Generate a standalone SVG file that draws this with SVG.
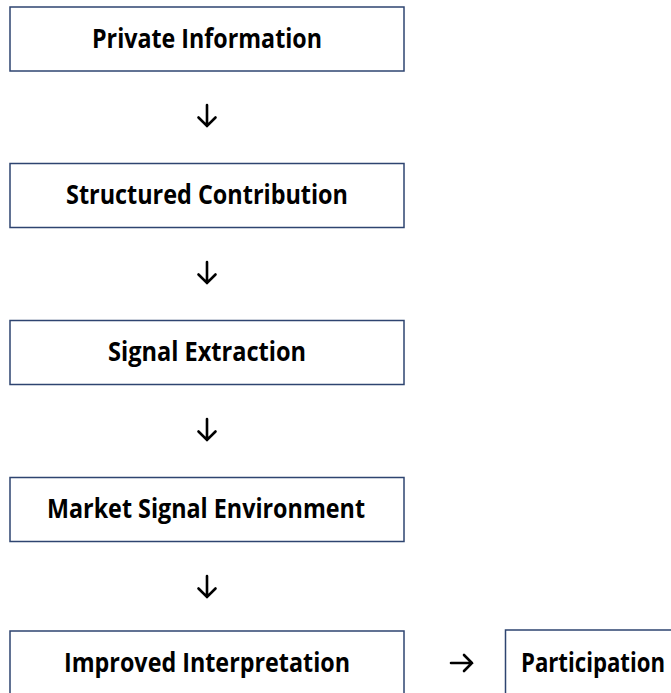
<svg xmlns="http://www.w3.org/2000/svg" width="671" height="693" viewBox="0 0 671 693">
<style>
.box{fill:#ffffff;stroke:#2e4470;stroke-width:1.5}
.lbl{font-family:"Open Sans",Lato,"Liberation Sans",sans-serif;font-weight:bold;font-size:26px;fill:#000;text-anchor:middle}
.arr{fill:none;stroke:#000;stroke-width:2.6;stroke-linecap:round;stroke-linejoin:miter}
</style>
<rect width="671" height="693" fill="#ffffff"/>
<g id="connectors">
<path class="arr" d="M207 105V126M198.5 117.5L207 126L215.5 117.5"/>
<path class="arr" d="M207 262V283M198.5 274.5L207 283L215.5 274.5"/>
<path class="arr" d="M207 419V440M198.5 431.5L207 440L215.5 431.5"/>
<path class="arr" d="M207 576V597M198.5 588.5L207 597L215.5 588.5"/>
<path class="arr" d="M451 663H472M464 655L472 663L464 671"/>
</g>
<g id="n1"><rect class="box" x="10" y="7" width="394" height="64"/><text class="lbl" x="207" y="47.5" textLength="230" lengthAdjust="spacingAndGlyphs">Private Information</text></g>
<g id="n2"><rect class="box" x="10" y="163.5" width="394" height="64"/><text class="lbl" x="207" y="204" textLength="282" lengthAdjust="spacingAndGlyphs">Structured Contribution</text></g>
<g id="n3"><rect class="box" x="10" y="320.5" width="394" height="64"/><text class="lbl" x="207" y="361" textLength="198" lengthAdjust="spacingAndGlyphs">Signal Extraction</text></g>
<g id="n4"><rect class="box" x="10" y="477.5" width="394" height="64"/><text class="lbl" x="206" y="518" textLength="318" lengthAdjust="spacingAndGlyphs">Market Signal Environment</text></g>
<g id="n5"><rect class="box" x="10" y="631" width="394" height="70"/><text class="lbl" x="207" y="671.5" textLength="286" lengthAdjust="spacingAndGlyphs">Improved Interpretation</text></g>
<g id="n6"><rect class="box" x="505.5" y="630" width="200" height="70"/><text class="lbl" x="593" y="671.5" textLength="144" lengthAdjust="spacingAndGlyphs">Participation</text></g>
</svg>
